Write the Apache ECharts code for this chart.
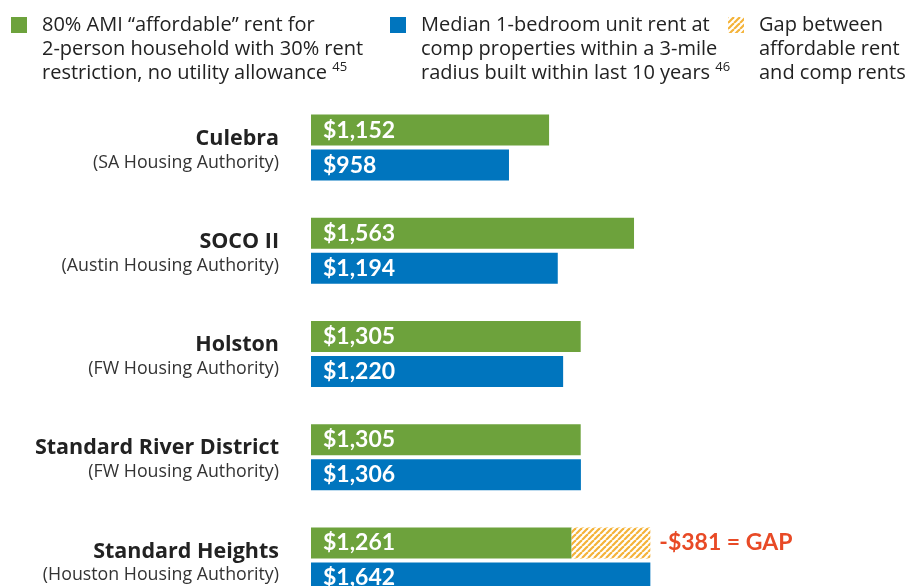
<!DOCTYPE html>
<html>
<head>
<meta charset="utf-8">
<script src="https://cdn.jsdelivr.net/npm/echarts@6/dist/echarts.min.js"></script>
<style>
html, body { margin: 0; padding: 0; background: #fff; }
#chart { width: 922px; height: 586px; }
</style>
</head>
<body>
<div id="chart"></div>
<script>
const categories = ['Culebra', 'SOCO II', 'Holston', 'Standard River District', 'Standard Heights'];
const authorities = ['(SA Housing Authority)', '(Austin Housing Authority)', '(FW Housing Authority)', '(FW Housing Authority)', '(Houston Housing Authority)'];
const affordableRent = [1152, 1563, 1305, 1305, 1261];
const compRent = [958, 1194, 1220, 1306, 1642];
const gapValues = [null, null, null, null, 381];

const GREEN = '#6da23c';
const BLUE = '#0075be';
const ORANGE = '#f4b33a';
const FONT = '"Open Sans", Lato, sans-serif';
const VALUE_FONT = 'Lato, "Open Sans", sans-serif';

// diagonal hatch pattern for the gap
const hatch = (() => {
    const c = document.createElement('canvas');
    const s = 6;
    c.width = s; c.height = s;
    const ctx = c.getContext('2d');
    ctx.fillStyle = '#fff';
    ctx.fillRect(0, 0, s, s);
    ctx.strokeStyle = ORANGE;
    ctx.lineWidth = 2.2;
    [-s, 0, s].forEach(o => {
        ctx.beginPath();
        ctx.moveTo(o, s);
        ctx.lineTo(o + s, 0);
        ctx.stroke();
    });
    return c;
})();

const fmtMoney = v => '$' + v.toLocaleString('en-US');

const legendText = {
    color: '#222',
    fontFamily: FONT,
    fontSize: 20,
    lineHeight: 24,
    padding: [48, 0, 0, 10],
    rich: {
        t: { color: '#222', fontFamily: FONT, fontSize: 20, lineHeight: 24 },
        s: { color: '#222', fontFamily: FONT, fontSize: 13, lineHeight: 24, verticalAlign: 'top', padding: [0, 0, 8, 0] }
    }
};

const makeLegend = (name, left, top, text) => ({
    left: left,
    top: top,
    padding: 0,
    itemWidth: 16,
    itemHeight: 16,
    icon: 'rect',
    selectedMode: false,
    data: [name],
    formatter: () => text,
    textStyle: legendText
});

const chart = echarts.init(document.getElementById('chart'));

const valueLabel = {
    show: true,
    position: 'insideLeft',
    distance: 12,
    color: '#fff',
    fontFamily: VALUE_FONT,
    fontSize: 23,
    fontWeight: 'bold',
    formatter: p => fmtMoney(p.value)
};

const options = {
    animation: false,
    legend: [
        makeLegend('Affordable', 11, -35, '{t|80% AMI “affordable” rent for}\n{t|2-person household with 30% rent}\n{t|restriction, no utility allowance} {s|45}'),
        makeLegend('Comp', 390, -35, '{t|Median 1-bedroom unit rent at}\n{t|comp properties within a 3-mile}\n{t|radius built within last 10 years} {s|46}'),
        makeLegend('Gap', 728, -35, '{t|Gap between}\n{t|affordable rent}\n{t|and comp rents}')
    ],
    grid: {
        left: 311,
        top: 96,
        width: 620,
        height: 516,
        outerBoundsMode: 'none'
    },
    xAxis: {
        type: 'value',
        min: 0,
        max: 3000,
        show: false
    },
    yAxis: {
        type: 'category',
        inverse: true,
        data: categories,
        axisLine: { show: false },
        axisTick: { show: false },
        axisLabel: {
            margin: 32,
            align: 'right',
            padding: [6, 0, 0, 0],
            formatter: (value, index) => `{n|${value}}\n{s|${authorities[index]}}`,
            rich: {
                n: { color: '#222', fontFamily: FONT, fontSize: 21.5, fontWeight: 'bold', lineHeight: 24, align: 'right' },
                s: { color: '#333', fontFamily: FONT, fontSize: 17.8, lineHeight: 24, align: 'right' }
            }
        }
    },
    series: [
        {
            name: 'Affordable',
            type: 'bar',
            stack: 'afford',
            barWidth: 31,
            barGap: '13%',
            itemStyle: { color: GREEN },
            label: valueLabel,
            data: affordableRent
        },
        {
            name: 'Comp',
            type: 'bar',
            barWidth: 31,
            barGap: '13%',
            itemStyle: { color: BLUE },
            label: valueLabel,
            data: compRent
        },
        {
            name: 'Gap',
            type: 'bar',
            stack: 'afford',
            barWidth: 31,
            barGap: '13%',
            itemStyle: { color: { image: hatch, repeat: 'repeat' } },
            label: {
                show: true,
                position: 'right',
                distance: 9,
                color: '#e84a26',
                fontFamily: VALUE_FONT,
                fontSize: 23,
                fontWeight: 'bold',
                formatter: p => '-$' + p.value + ' = GAP'
            },
            data: gapValues
        }
    ]
};

chart.setOption(options);
</script>
</body>
</html>
